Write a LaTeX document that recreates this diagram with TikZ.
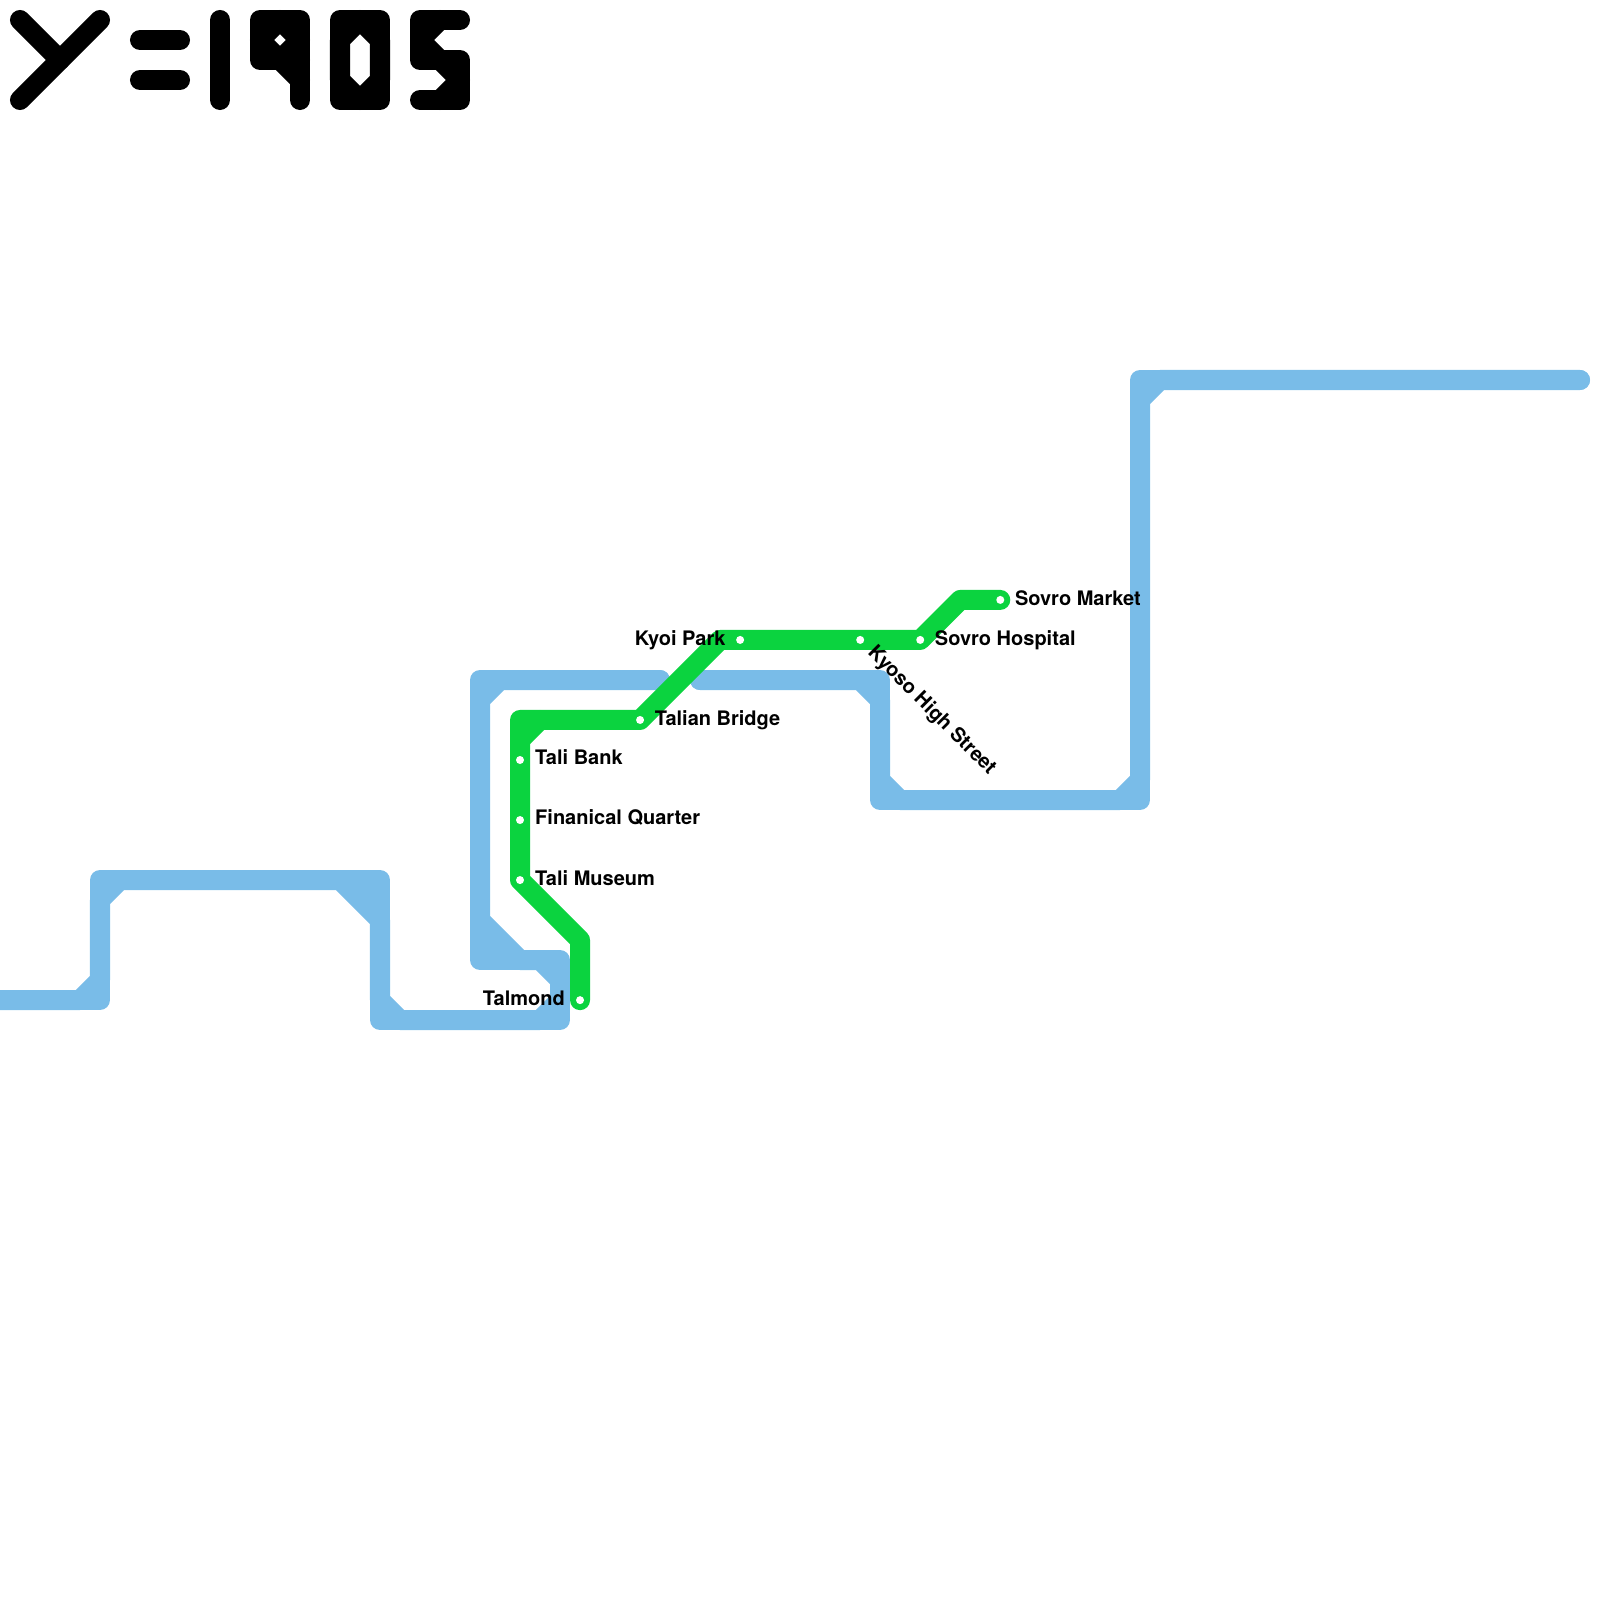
\documentclass[tikz,border=0pt]{standalone}
\usepackage{fontspec}
\setmainfont{TeX Gyre Heros}
\usepackage{xcolor}
\usetikzlibrary{positioning, backgrounds}
\definecolor{taliblue}{HTML}{79BCE8}
\definecolor{taligreen}{HTML}{0BD33F}
\tikzset{
    route/.style={line width=0.2cm, line cap=round, line join=round},
    blueline/.style={route, draw=taliblue},
    greenline/.style={route, draw=taligreen},
    titleline/.style={route, draw=black},
    station/.style={circle, fill=white, inner sep=0pt, minimum size=0.08cm},
    stationlabel/.style={inner sep=0pt, font=\fontsize{5.69pt}{7pt}\selectfont\bfseries},
}
\begin{document}
\begin{tikzpicture}[x=0.01cm, y=-0.01cm, on grid]
    \useasboundingbox (0,0) rectangle (1600,1600);

    \node [station] (taliBank) at (520,760) {};
    \node [station, below=0.6cm of taliBank] (finQuarter) {};
    \node [station, below=0.6cm of finQuarter] (taliMuseum) {};
    \node [station, below right=1.2cm and 0.6cm of taliMuseum] (talmond) {};
    \node [station, above right=0.4cm and 1.2cm of taliBank] (talianBridge) {};
    \node [station, above right=0.8cm and 1cm of talianBridge] (kyoiPark) {};
    \node [station, right=1.2cm of kyoiPark] (kyosoHigh) {};
    \node [station, right=0.6cm of kyosoHigh] (sovroHospital) {};
    \node [station, above right=0.4cm and 0.8cm of sovroHospital] (sovroMarket) {};

    \coordinate [above=0.6cm of talmond] (bendTalmond);
    \coordinate [above=0.4cm of taliBank] (bendBank);
    \coordinate [left=0.2cm of kyoiPark] (bendKyoi);
    \coordinate [left=0.4cm of sovroMarket] (bendSovro);
    \coordinate [above=0.2cm of taliBank] (cutBankA);
    \coordinate [right=0.2cm of bendBank] (cutBankB);

    \coordinate (blueWest) at (0,1000);
    \coordinate (blueGapA) at (660,680);
    \coordinate (blueGapB) at (700,680);
    \coordinate (blueEast) at (1580,380);

    \begin{scope}[on background layer]
        \draw [blueline] (blueWest) -- (100,1000) -- (100,880) -- (380,880) -- (380,1020)
            -- (560,1020) -- (560,960) -- (480,960) -- (480,680) -- (blueGapA);
        \draw [blueline] (blueWest) -- (80,1000) -- (100,980) -- (100,900) -- (120,880)
            -- (340,880) -- (380,920) -- (380,1000) -- (400,1020) -- (540,1020)
            -- (560,1000) -- (560,980) -- (540,960) -- (520,960) -- (480,920)
            -- (480,700) -- (500,680) -- (blueGapA);
        \fill [taliblue] (340,880) -- (380,880) -- (380,920) -- cycle;
        \fill [taliblue] (480,920) -- (520,960) -- (480,960) -- cycle;
        \draw [blueline] (blueGapB) -- (880,680) -- (880,800) -- (1140,800) -- (1140,380)
            -- (blueEast);
        \draw [blueline] (blueGapB) -- (860,680) -- (880,700) -- (880,780) -- (900,800)
            -- (1120,800) -- (1140,780) -- (1140,400) -- (1160,380) -- (blueEast);

        \draw [greenline] (talmond.center) -- (bendTalmond) -- (taliMuseum.center)
            -- (finQuarter.center) -- (taliBank.center) -- (bendBank)
            -- (talianBridge.center) -- (bendKyoi) -- (kyoiPark.center)
            -- (kyosoHigh.center) -- (sovroHospital.center) -- (bendSovro)
            -- (sovroMarket.center);
        \draw [greenline] (cutBankA) -- (cutBankB);
    \end{scope}

    \node [stationlabel, anchor=base west] (lblBank) at ([xshift=0.145cm, yshift=-0.045cm]taliBank.center) {Tali Bank};
    \node [stationlabel, anchor=base west] (lblQuarter) at ([xshift=0.145cm, yshift=-0.045cm]finQuarter.center) {Finanical Quarter};
    \node [stationlabel, anchor=base west] (lblMuseum) at ([xshift=0.145cm, yshift=-0.05cm]taliMuseum.center) {Tali Museum};
    \node [stationlabel, anchor=base east] (lblTalmond) at ([xshift=-0.145cm, yshift=-0.05cm]talmond.center) {Talmond};
    \node [stationlabel, anchor=base west] (lblBridge) at ([xshift=0.14cm, yshift=-0.06cm]talianBridge.center) {Talian Bridge};
    \node [stationlabel, anchor=base east] (lblKyoi) at ([xshift=-0.14cm, yshift=-0.06cm]kyoiPark.center) {Kyoi Park};
    \node [stationlabel, anchor=base west, rotate=-45] (lblKyoso) at ([xshift=0.065cm, yshift=-0.135cm]kyosoHigh.center) {Kyoso High Street};
    \node [stationlabel, anchor=base west] (lblHospital) at ([xshift=0.14cm, yshift=-0.06cm]sovroHospital.center) {Sovro Hospital};
    \node [stationlabel, anchor=base west] (lblMarket) at ([xshift=0.14cm, yshift=-0.06cm]sovroMarket.center) {Sovro Market};

    \draw [titleline] (20,20) -- (60,60);
    \draw [titleline] (100,20) -- (20,100);
    \draw [titleline] (140,40) -- (180,40);
    \draw [titleline] (140,80) -- (180,80);
    \draw [titleline] (220,20) -- (220,100);
    \draw [titleline] (300,100) -- (300,20) -- (260,20) -- (260,60) -- (300,60);
    \draw [titleline] (260,40) -- (280,20) -- (300,40) -- (280,60) -- cycle;
    \draw [titleline] (280,60) -- (300,80);
    \draw [titleline] (340,20) -- (380,20) -- (380,100) -- (340,100) -- cycle;
    \draw [titleline] (340,40) -- (360,20) -- (380,40) -- (380,80) -- (360,100) -- (340,80) -- cycle;
    \draw [titleline] (460,20) -- (420,20) -- (420,60) -- (460,60) -- (460,100) -- (420,100);
    \draw [titleline] (440,20) -- (420,40) -- (440,60) -- (460,80) -- (440,100);
\end{tikzpicture}
\end{document}
